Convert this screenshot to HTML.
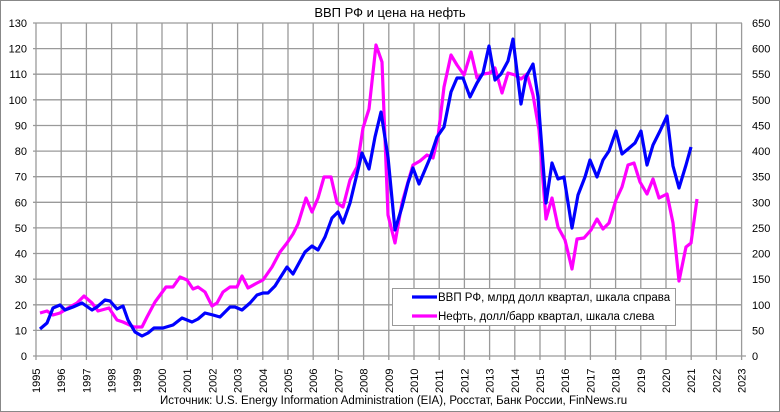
<!DOCTYPE html>
<html><head><meta charset="utf-8"><style>
body{margin:0;background:#fff}
svg{display:block;font-family:"Liberation Sans",sans-serif}
</style></head><body>
<svg width="780" height="412" viewBox="0 0 780 412">
<rect x="0.5" y="0.5" width="779" height="411" fill="#fff" stroke="#888"/>
<text x="390" y="17" font-size="13" text-anchor="middle" fill="#000">ВВП РФ и цена на нефть</text>
<g stroke="#9a9a9a" stroke-width="1.3">
<line x1="33" y1="23" x2="742" y2="23"/><line x1="33" y1="48.6" x2="742" y2="48.6"/><line x1="33" y1="74.2" x2="742" y2="74.2"/><line x1="33" y1="99.8" x2="742" y2="99.8"/><line x1="33" y1="125.5" x2="742" y2="125.5"/><line x1="33" y1="151.1" x2="742" y2="151.1"/><line x1="33" y1="176.7" x2="742" y2="176.7"/><line x1="33" y1="202.3" x2="742" y2="202.3"/><line x1="33" y1="227.9" x2="742" y2="227.9"/><line x1="33" y1="253.5" x2="742" y2="253.5"/><line x1="33" y1="279.2" x2="742" y2="279.2"/><line x1="33" y1="304.8" x2="742" y2="304.8"/><line x1="33" y1="330.4" x2="742" y2="330.4"/><line x1="33" y1="356" x2="746" y2="356"/>
</g>
<g id="v" stroke="#9a9a9a" stroke-width="1.3"></g>
<g font-size="11" fill="#000" text-anchor="end" id="yl"></g>
<g font-size="11" fill="#000" text-anchor="start" id="yr"></g>
<g font-size="11" fill="#000" id="xl"></g>
<polyline fill="none" stroke="#ff00ff" stroke-width="3.2" stroke-linejoin="round" points="40,313 47,311 53,315 60,313 68,308 77,303 84,296 92,303 98,311 109,308 117,320 123,322 134,327 142,327 147,317 155,302 166,287 173,287 180,277 187,280 193,289 198,287 205,292 212,306 217,303 223,292 230,287 237,287 242,276 248,288 257,283 263,280 272,267 280,252 287,243 293,234 298,224 306,198 312,212 318,198 324,177 331,177 337,203 343,207 350,180 357,167 363,128 369,109 376,45 382,62 388,215 395,243 402,203 408,182 413,165 420,161 427,155 433,158 438,137 444,87 451,55 457,65 464,75 471,52 477,78 483,74 490,73 495,68 502,93 508,73 515,75 521,79 527,74 533,95 539,130 546,219 552,198 558,227 565,240 572,269 577,239 584,238 591,230 597,219 603,229 609,223 616,200 622,187 628,165 634,163 640,182 647,194 653,179 659,198 667,194 673,223 679,281 686,247 691,243 697,199"/>
<polyline fill="none" stroke="#0000ff" stroke-width="3.2" stroke-linejoin="round" points="40,329 47,323 53,308 60,305 65,310 73,307 82,303 92,310 97,307 105,300 110,301 117,309 123,306 128,320 135,332 142,336 148,333 154,328 163,328 173,325 182,318 192,322 198,319 205,313 213,315 220,317 230,307 235,307 242,310 250,303 257,295 263,293 268,293 275,286 280,278 287,267 293,274 305,252 312,246 318,250 325,237 332,218 338,212 343,223 350,203 362,153 369,169 375,137 381,112 388,157 395,230 402,207 408,183 413,168 419,184 430,158 437,137 444,127 451,92 457,78 463,78 470,97 477,83 483,73 489,46 495,80 501,74 508,61 513,39 521,104 526,77 533,64 538,97 546,203 552,163 558,179 564,177 572,228 578,195 585,177 590,160 597,177 603,160 609,151 616,131 622,154 628,149 635,143 641,131 647,165 653,145 660,131 667,116 673,166 679,188 686,165 691,147"/>
<rect x="392.5" y="288.5" width="283" height="37" fill="#fff" stroke="#999"/>
<line x1="412" y1="297" x2="437" y2="297" stroke="#0000ff" stroke-width="3.2"/>
<line x1="412" y1="316" x2="437" y2="316" stroke="#ff00ff" stroke-width="3.2"/>
<text x="438" y="301" font-size="11.5">ВВП РФ, млрд долл квартал, шкала справа</text>
<text x="438" y="320" font-size="11.5">Нефть, долл/барр квартал, шкала слева</text>
<text x="160" y="404" font-size="11.5">Источник: U.S. Energy Information Administration (EIA), Росстат, Банк России, FinNews.ru</text>
<script>
var ns="http://www.w3.org/2000/svg";
function el(p,t,a,txt){var e=document.createElementNS(ns,t);for(var k in a)e.setAttribute(k,a[k]);if(txt!=null)e.textContent=txt;document.getElementById(p).appendChild(e);}
for(var i=0;i<=28;i++){var x=36+i*25.2;el("v","line",{x1:x,y1:23,x2:x,y2:360});
el("xl","text",{transform:"translate("+(x+4)+",393) rotate(-90)"},String(1995+i));}
for(var j=0;j<=13;j++){var y=356-j*25.615;el("yl","text",{x:27,y:y+4},String(j*10));el("yr","text",{x:752,y:y+4},String(j*50));}
</script>
</svg>
</body></html>
